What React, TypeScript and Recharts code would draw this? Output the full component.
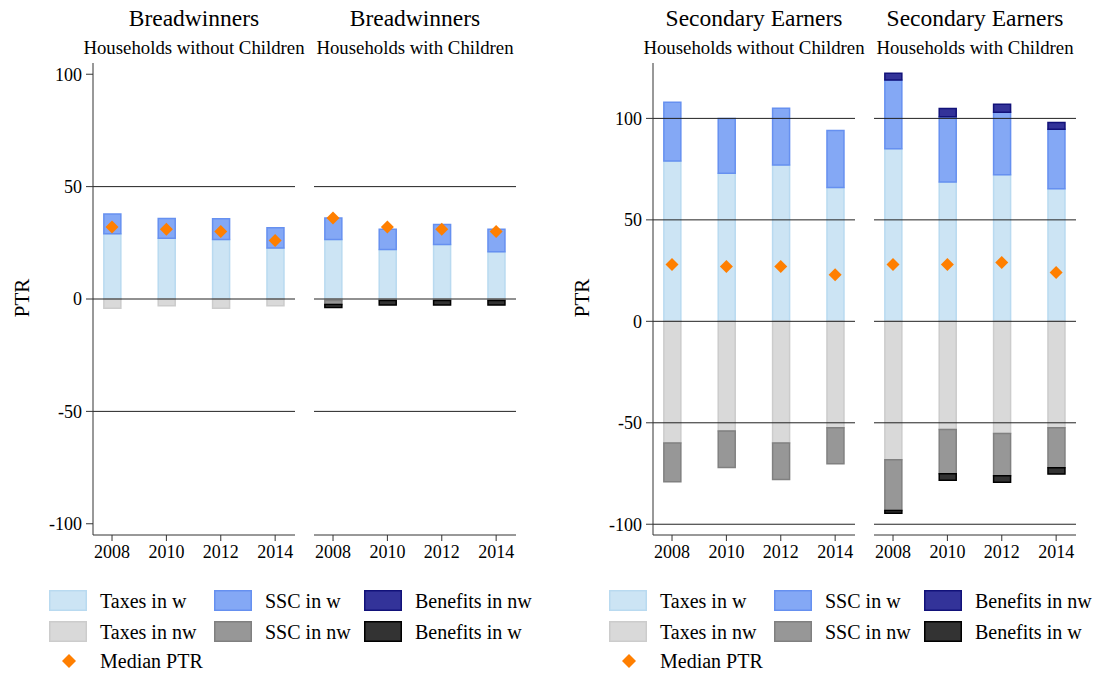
import { ComposedChart, Bar, Line, XAxis, YAxis, ReferenceLine } from 'recharts'

const years = [2008, 2010, 2012, 2014]

// Breadwinners - households without children
const bwNoChildTaxesW = [29, 27, 26.5, 22.7]
const bwNoChildSscW = [8.8, 8.8, 9.2, 9]
const bwNoChildBenefitsNw = [0, 0, 0, 0]
const bwNoChildTaxesNw = [-4.1, -3, -4.1, -3]
const bwNoChildSscNw = [0, 0, 0, 0]
const bwNoChildBenefitsW = [0, 0, 0, 0]
const bwNoChildMedian = [32, 31, 30, 26]

// Breadwinners - households with children
const bwChildTaxesW = [26.5, 22, 24.2, 21]
const bwChildSscW = [9.5, 9, 9, 10]
const bwChildBenefitsNw = [0, 0, 0, 0]
const bwChildTaxesNw = [-0.7, -0.7, -0.7, -0.7]
const bwChildSscNw = [-1.8, 0, 0, 0]
const bwChildBenefitsW = [-1.3, -2, -2, -2]
const bwChildMedian = [36, 32, 31, 30]

// Secondary earners - households without children
const seNoChildTaxesW = [79, 73, 77, 66]
const seNoChildSscW = [29, 27, 28, 28]
const seNoChildBenefitsNw = [0, 0, 0, 0]
const seNoChildTaxesNw = [-60, -54, -60, -52.5]
const seNoChildSscNw = [-19, -18, -18, -17.7]
const seNoChildBenefitsW = [0, 0, 0, 0]
const seNoChildMedian = [28, 27, 27, 23]

// Secondary earners - households with children
const seChildTaxesW = [85, 68.7, 72.2, 65.3]
const seChildSscW = [33.9, 32.1, 30.8, 29.4]
const seChildBenefitsNw = [3.3, 4.1, 4, 3.3]
const seChildTaxesNw = [-68.2, -53.3, -55.3, -52.5]
const seChildSscNw = [-25, -21.8, -20.8, -19.7]
const seChildBenefitsW = [-1.4, -3.2, -3.2, -3.1]
const seChildMedian = [28, 28, 29, 24]

const yTicks = [-100, -50, 0, 50, 100]

const FONT = '"Liberation Serif", "Times New Roman", serif'
const MEDIAN_COLOR = '#ff7f00'

// stacking order matters for stackOffset="sign"
const seriesStyles = [
  { key: 'taxesW', name: 'Taxes in w', fill: '#cce4f4', stroke: '#b9daf0' },
  { key: 'sscW', name: 'SSC in w', fill: '#84a8f5', stroke: '#6690f0' },
  { key: 'benefitsNw', name: 'Benefits in nw', fill: '#333399', stroke: '#12127a' },
  { key: 'taxesNw', name: 'Taxes in nw', fill: '#d9d9d9', stroke: '#cccccc' },
  { key: 'sscNw', name: 'SSC in nw', fill: '#979797', stroke: '#808080' },
  { key: 'benefitsW', name: 'Benefits in w', fill: '#333333', stroke: '#000000' }
]

function buildRows(
  taxesW: number[],
  sscW: number[],
  benefitsNw: number[],
  taxesNw: number[],
  sscNw: number[],
  benefitsW: number[],
  median: number[]
) {
  return years.map((year, i) => ({
    year,
    taxesW: taxesW[i],
    sscW: sscW[i],
    benefitsNw: benefitsNw[i],
    taxesNw: taxesNw[i],
    sscNw: sscNw[i],
    benefitsW: benefitsW[i],
    median: median[i]
  }))
}

const bwNoChildRows = buildRows(bwNoChildTaxesW, bwNoChildSscW, bwNoChildBenefitsNw, bwNoChildTaxesNw, bwNoChildSscNw, bwNoChildBenefitsW, bwNoChildMedian)
const bwChildRows = buildRows(bwChildTaxesW, bwChildSscW, bwChildBenefitsNw, bwChildTaxesNw, bwChildSscNw, bwChildBenefitsW, bwChildMedian)
const seNoChildRows = buildRows(seNoChildTaxesW, seNoChildSscW, seNoChildBenefitsNw, seNoChildTaxesNw, seNoChildSscNw, seNoChildBenefitsW, seNoChildMedian)
const seChildRows = buildRows(seChildTaxesW, seChildSscW, seChildBenefitsNw, seChildTaxesNw, seChildSscNw, seChildBenefitsW, seChildMedian)

// layout
const PLOT_TOP = 63
const PLOT_H = 472
const PLOT_W = 202
const Y_AXIS_W = 93
const X_AXIS_H = 40
const CHART_H = PLOT_TOP + PLOT_H + X_AXIS_H

const diamondPath = (x: number, y: number, r: number) =>
  `M${x},${y - r}L${x + r},${y}L${x},${y + r}L${x - r},${y}Z`

interface PanelProps {
  rows: ReturnType<typeof buildRows>
  left: number
  showYAxis: boolean
  yDomain: [number, number]
  gridValues: number[]
}

function Panel({ rows, left, showYAxis, yDomain, gridValues }: PanelProps) {
  const width = (showYAxis ? Y_AXIS_W : 0) + PLOT_W + 4
  return (
    <div style={{ position: 'absolute', left, top: 0 }}>
      <ComposedChart
        width={width}
        height={CHART_H}
        data={rows}
        stackOffset="sign"
        margin={{ top: PLOT_TOP, right: 4, bottom: 0, left: 0 }}
      >
        <XAxis
          dataKey="year"
          type="number"
          domain={[2007.3, 2014.73]}
          allowDataOverflow
          ticks={years}
          interval={0}
          height={X_AXIS_H}
          stroke="#333"
          tickSize={6}
          tickMargin={4}
          tick={{ fill: '#000', fontSize: 18, fontFamily: FONT }}
        />
        <YAxis
          type="number"
          domain={yDomain}
          allowDataOverflow
          ticks={yTicks}
          interval={0}
          hide={!showYAxis}
          width={Y_AXIS_W}
          stroke="#333"
          tickSize={7}
          tickMargin={4}
          tick={{ fill: '#000', fontSize: 18, fontFamily: FONT }}
        />
        {gridValues.map(v => (
          <ReferenceLine key={v} y={v} stroke="#222" strokeWidth={1} />
        ))}
        {seriesStyles.map(s => (
          <Bar
            key={s.key}
            dataKey={s.key}
            stackId="a"
            barSize={17}
            fill={s.fill}
            stroke={s.stroke}
            strokeWidth={1.5}
            isAnimationActive={false}
          />
        ))}
        <Line
          dataKey="median"
          stroke="none"
          isAnimationActive={false}
          activeDot={false}
          dot={(p: any) => (
            <path key={`median-${p.index}`} d={diamondPath(p.cx, p.cy, 6.5)} fill={MEDIAN_COLOR} />
          )}
        />
      </ComposedChart>
    </div>
  )
}

const legendColumns = [
  { x: 49, textX: 100 },
  { x: 214, textX: 265 },
  { x: 364, textX: 415 }
]
const legendRows = [590, 621]
// grid position of each bar series in the legend: [column, row]
const legendSlots: Record<string, [number, number]> = {
  taxesW: [0, 0],
  taxesNw: [0, 1],
  sscW: [1, 0],
  sscNw: [1, 1],
  benefitsNw: [2, 0],
  benefitsW: [2, 1]
}

function LegendBlock({ offset }: { offset: number }) {
  return (
    <g fontFamily={FONT} fontSize={20} fill="#000">
      {seriesStyles.map(s => {
        const [c, r] = legendSlots[s.key]
        const col = legendColumns[c]
        const top = legendRows[r]
        return (
          <g key={s.key}>
            <rect x={offset + col.x + 0.75} y={top + 0.75} width={36.5} height={19.5} fill={s.fill} stroke={s.stroke} strokeWidth={1.5} />
            <text x={offset + col.textX} y={top + 18}>{s.name}</text>
          </g>
        )
      })}
      <path d={diamondPath(offset + 69, 661, 7)} fill={MEDIAN_COLOR} />
      <text x={offset + 100} y={668}>Median PTR</text>
    </g>
  )
}

const titles = [
  { x: 194, title: 'Breadwinners', sub: 'Households without Children' },
  { x: 415, title: 'Breadwinners', sub: 'Households with Children' },
  { x: 754, title: 'Secondary Earners', sub: 'Households without Children' },
  { x: 975, title: 'Secondary Earners', sub: 'Households with Children' }
]

export default function App() {
  return (
    <div style={{ position: 'absolute', left: 0, top: 0, width: 1094, height: 675, background: '#fff', fontFamily: FONT }}>
      <svg width={1094} height={675} style={{ position: 'absolute', left: 0, top: 0 }}>
        {titles.map(t => (
          <g key={t.x} fontFamily={FONT} fill="#000" textAnchor="middle">
            <text x={t.x} y={26} fontSize={23.5}>{t.title}</text>
            <text x={t.x} y={54} fontSize={18.8}>{t.sub}</text>
          </g>
        ))}
        <text x={0} y={0} transform="translate(29,298) rotate(-90)" textAnchor="middle" fontFamily={FONT} fontSize={21}>PTR</text>
        <text x={0} y={0} transform="translate(589,298) rotate(-90)" textAnchor="middle" fontFamily={FONT} fontSize={21}>PTR</text>
        <LegendBlock offset={0} />
        <LegendBlock offset={560} />
      </svg>
      <Panel rows={bwNoChildRows} left={0} showYAxis yDomain={[-105, 105]} gridValues={[50, 0, -50]} />
      <Panel rows={bwChildRows} left={314} showYAxis={false} yDomain={[-105, 105]} gridValues={[50, 0, -50]} />
      <Panel rows={seNoChildRows} left={560} showYAxis yDomain={[-105.3, 127.3]} gridValues={[100, 50, 0, -50, -100]} />
      <Panel rows={seChildRows} left={874} showYAxis={false} yDomain={[-105.3, 127.3]} gridValues={[100, 50, 0, -50, -100]} />
    </div>
  )
}
